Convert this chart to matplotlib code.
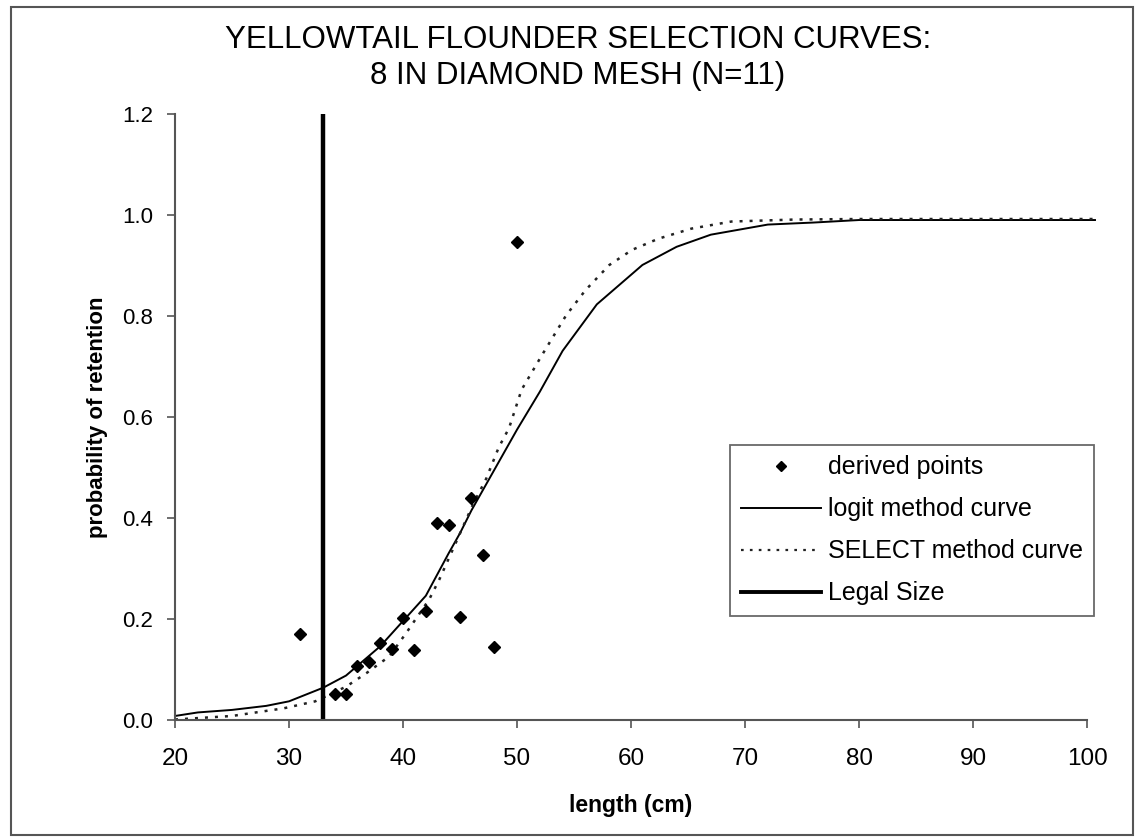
import matplotlib
matplotlib.use("Agg")
import matplotlib.pyplot as plt
from matplotlib.lines import Line2D
from matplotlib.patches import Rectangle

# derived points (length cm, probability of retention)
pts_len = [31, 34, 35, 36, 37, 38, 39, 40, 41, 42, 43, 44, 45, 46, 47, 48, 50]
pts_prob = [0.171, 0.051, 0.051, 0.106, 0.114, 0.153, 0.141, 0.201, 0.138, 0.216,
            0.391, 0.387, 0.204, 0.439, 0.327, 0.144, 0.947]

# logit method curve
logit_len = [20, 22, 25, 28, 30, 33, 35, 38, 40, 42, 44, 45, 46, 47, 48, 49, 50,
             52, 54, 57, 61, 64, 67, 72, 76, 80, 100.7]
logit_prob = [0.008, 0.015, 0.020, 0.028, 0.037, 0.064, 0.088, 0.146, 0.196, 0.246,
              0.33, 0.37, 0.415, 0.455, 0.495, 0.535, 0.575, 0.65, 0.731, 0.823, 0.901,
              0.937, 0.961, 0.981, 0.985, 0.99, 0.99]

# SELECT method curve
select_len = [20, 25, 29.5, 32.3, 35, 36.8, 38.8, 40.3, 42.3, 43.2, 46.1, 47.3, 48.4,
              49.3, 50.4, 52.2, 54.3, 56, 58.1, 60.1, 62.4, 65.3, 68.8, 74.4, 80, 100.7]
select_prob = [0.001, 0.008, 0.023, 0.037, 0.066, 0.093, 0.126, 0.173, 0.239, 0.279,
               0.425, 0.478, 0.54, 0.578, 0.654, 0.723, 0.801, 0.851, 0.901, 0.931,
               0.953, 0.973, 0.987, 0.991, 0.992, 0.992]

legal_size = 33

plt.rcParams['font.family'] = ['Liberation Sans', 'DejaVu Sans']

fig = plt.figure(figsize=(11.38, 8.38), dpi=100)
fig.patches.append(Rectangle((0.010, 0.004), 0.986, 0.988, transform=fig.transFigure,
                             fill=False, edgecolor='#555555', linewidth=1.5))

ax = fig.add_axes([0.1538, 0.1408, 0.8014, 0.7232])

ax.plot(logit_len, logit_prob, color='black', linewidth=1.4, clip_on=False)
ax.plot(select_len, select_prob, color='#222222', linewidth=1.8,
        linestyle=(0, (1.2, 2.8)), clip_on=False)
ax.plot([legal_size, legal_size], [0, 1.2], color='black', linewidth=3.2)
ax.plot(pts_len, pts_prob, linestyle='none', marker='D', markersize=6.5,
        color='black', clip_on=False)

ax.set_xlim(20, 100)
ax.set_ylim(0, 1.2)
ax.set_xticks(range(20, 101, 10))
ax.set_yticks([0, 0.2, 0.4, 0.6, 0.8, 1.0, 1.2])
ax.set_yticklabels(['%.1f' % v for v in ax.get_yticks()])
for s in ['top', 'right']:
    ax.spines[s].set_visible(False)
for s in ['left', 'bottom']:
    ax.spines[s].set_color('#555555')
    ax.spines[s].set_linewidth(1.5)
ax.tick_params(axis='both', direction='out', length=6, width=1.2, color='#555555')
ax.tick_params(axis='x', pad=14, labelsize=17.5)
ax.tick_params(axis='y', pad=10, labelsize=16)

ax.set_xlabel('length (cm)', fontsize=16.5, fontweight='bold')
ax.xaxis.set_label_coords(0.5, -0.122)
ax.set_ylabel('probability of retention', fontsize=16, fontweight='bold')
ax.yaxis.set_label_coords(-0.073, 0.5)

fig.text(0.508, 0.952, 'YELLOWTAIL FLOUNDER SELECTION CURVES:', ha='center', va='center',
         fontsize=22.5)
fig.text(0.508, 0.909, '8 IN DIAMOND MESH (N=11)', ha='center', va='center',
         fontsize=22.5)

handles = [
    Line2D([], [], linestyle='none', marker='D', markersize=5.5, color='black'),
    Line2D([], [], color='black', linewidth=1.4),
    Line2D([], [], color='#222222', linewidth=1.6, linestyle=(0, (1.2, 2.8))),
    Line2D([], [], color='black', linewidth=2.8),
]
leg = ax.legend(handles, ['derived points', 'logit method curve', 'SELECT method curve',
                          'Legal Size'],
                loc='lower left', bbox_to_anchor=(0.609, 0.172), fontsize=18,
                frameon=True, fancybox=False, handlelength=3.2, handletextpad=0.3,
                labelspacing=0.72, borderpad=0.42, borderaxespad=0)
leg.get_frame().set_edgecolor('#444444')
leg.get_frame().set_linewidth(1.3)

fig.savefig('out.png', dpi=100)
